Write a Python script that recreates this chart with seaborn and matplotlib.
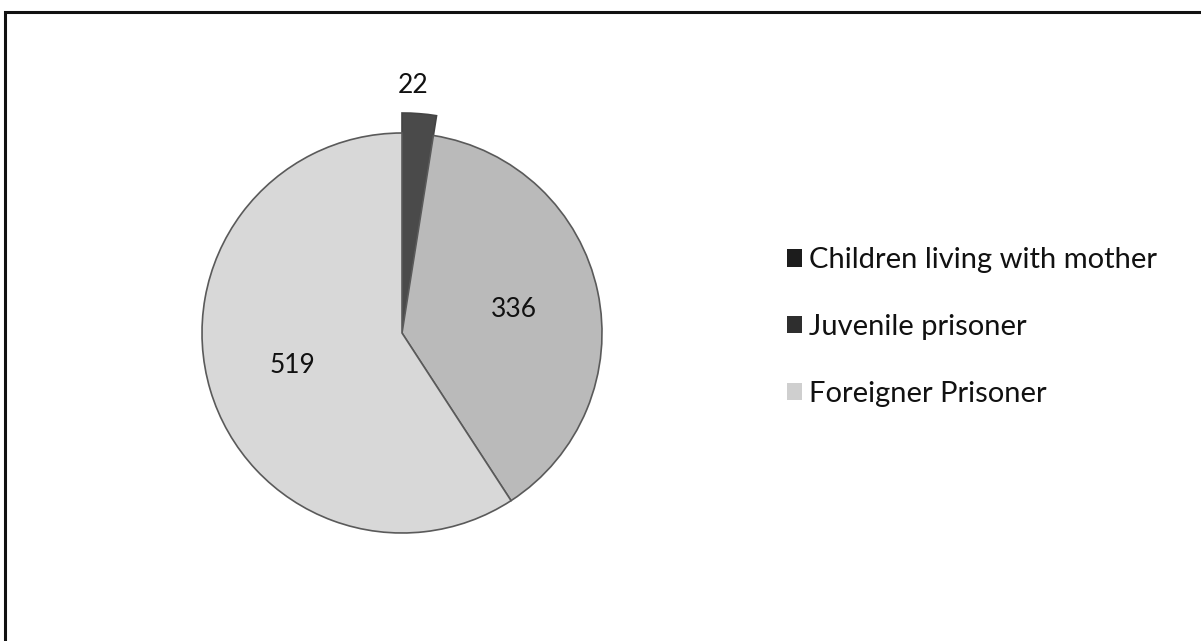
import matplotlib
matplotlib.use("Agg")
import matplotlib.pyplot as plt
from matplotlib.patches import Rectangle, Patch
import numpy as np
import seaborn as sns

categories = ["Children living with mother", "Juvenile prisoner", "Foreigner Prisoner"]
values = [22, 336, 519]
slice_colors = ["#4a4a4a", "#bababa", "#d8d8d8"]
legend_colors = ["#1c1c1c", "#2e2e2e", "#cfcfcf"]

sns.set_theme(style="white")
plt.rcParams["font.family"] = ["Lato", "DejaVu Sans"]

W, H = 1201, 641
fig = plt.figure(figsize=(W / 100, H / 100), dpi=100)
fig.patch.set_facecolor("white")

cx, cy, R = 402, 333, 200
half = 1.3 * R
ax = fig.add_axes([(cx - half) / W, (H - cy - half) / H, 2 * half / W, 2 * half / H])

wedges, texts, autotexts = ax.pie(
    values, colors=slice_colors, startangle=90, counterclock=False,
    autopct=lambda p: f"{p * sum(values) / 100:.0f}", pctdistance=0.57,
    wedgeprops=dict(edgecolor="#5a5a5a", linewidth=1.2),
    textprops=dict(fontsize=19, color="#111111"),
)
# the small slice is drawn longer, reaching above the pie
wedges[0].set_radius(1.1)
wedges[0].set_edgecolor("#444444")
th = np.deg2rad((wedges[0].theta1 + wedges[0].theta2) / 2 + 2)
autotexts[0].set_position((1.24 * np.cos(th), 1.24 * np.sin(th)))
ax.set_xlim(-1.3, 1.3)
ax.set_ylim(-1.3, 1.3)
ax.set_aspect("equal")
ax.axis("off")

handles = [Patch(facecolor=c, edgecolor="none") for c in legend_colors]
leg = fig.legend(handles, categories, loc="center left",
                 bbox_to_anchor=(761 / W, 1 - 327 / H), frameon=False,
                 fontsize=21, handlelength=0.5, handleheight=0.55,
                 handletextpad=0.25, labelspacing=1.4)
for t in leg.get_texts():
    t.set_color("#111111")

fig.add_artist(Rectangle((5 / W, -0.05), 1.2, 1 - 12 / H + 0.05,
                         transform=fig.transFigure, fill=False,
                         edgecolor="#111111", linewidth=2.2, clip_on=False))

fig.savefig("out.png", dpi=100, facecolor="white")
